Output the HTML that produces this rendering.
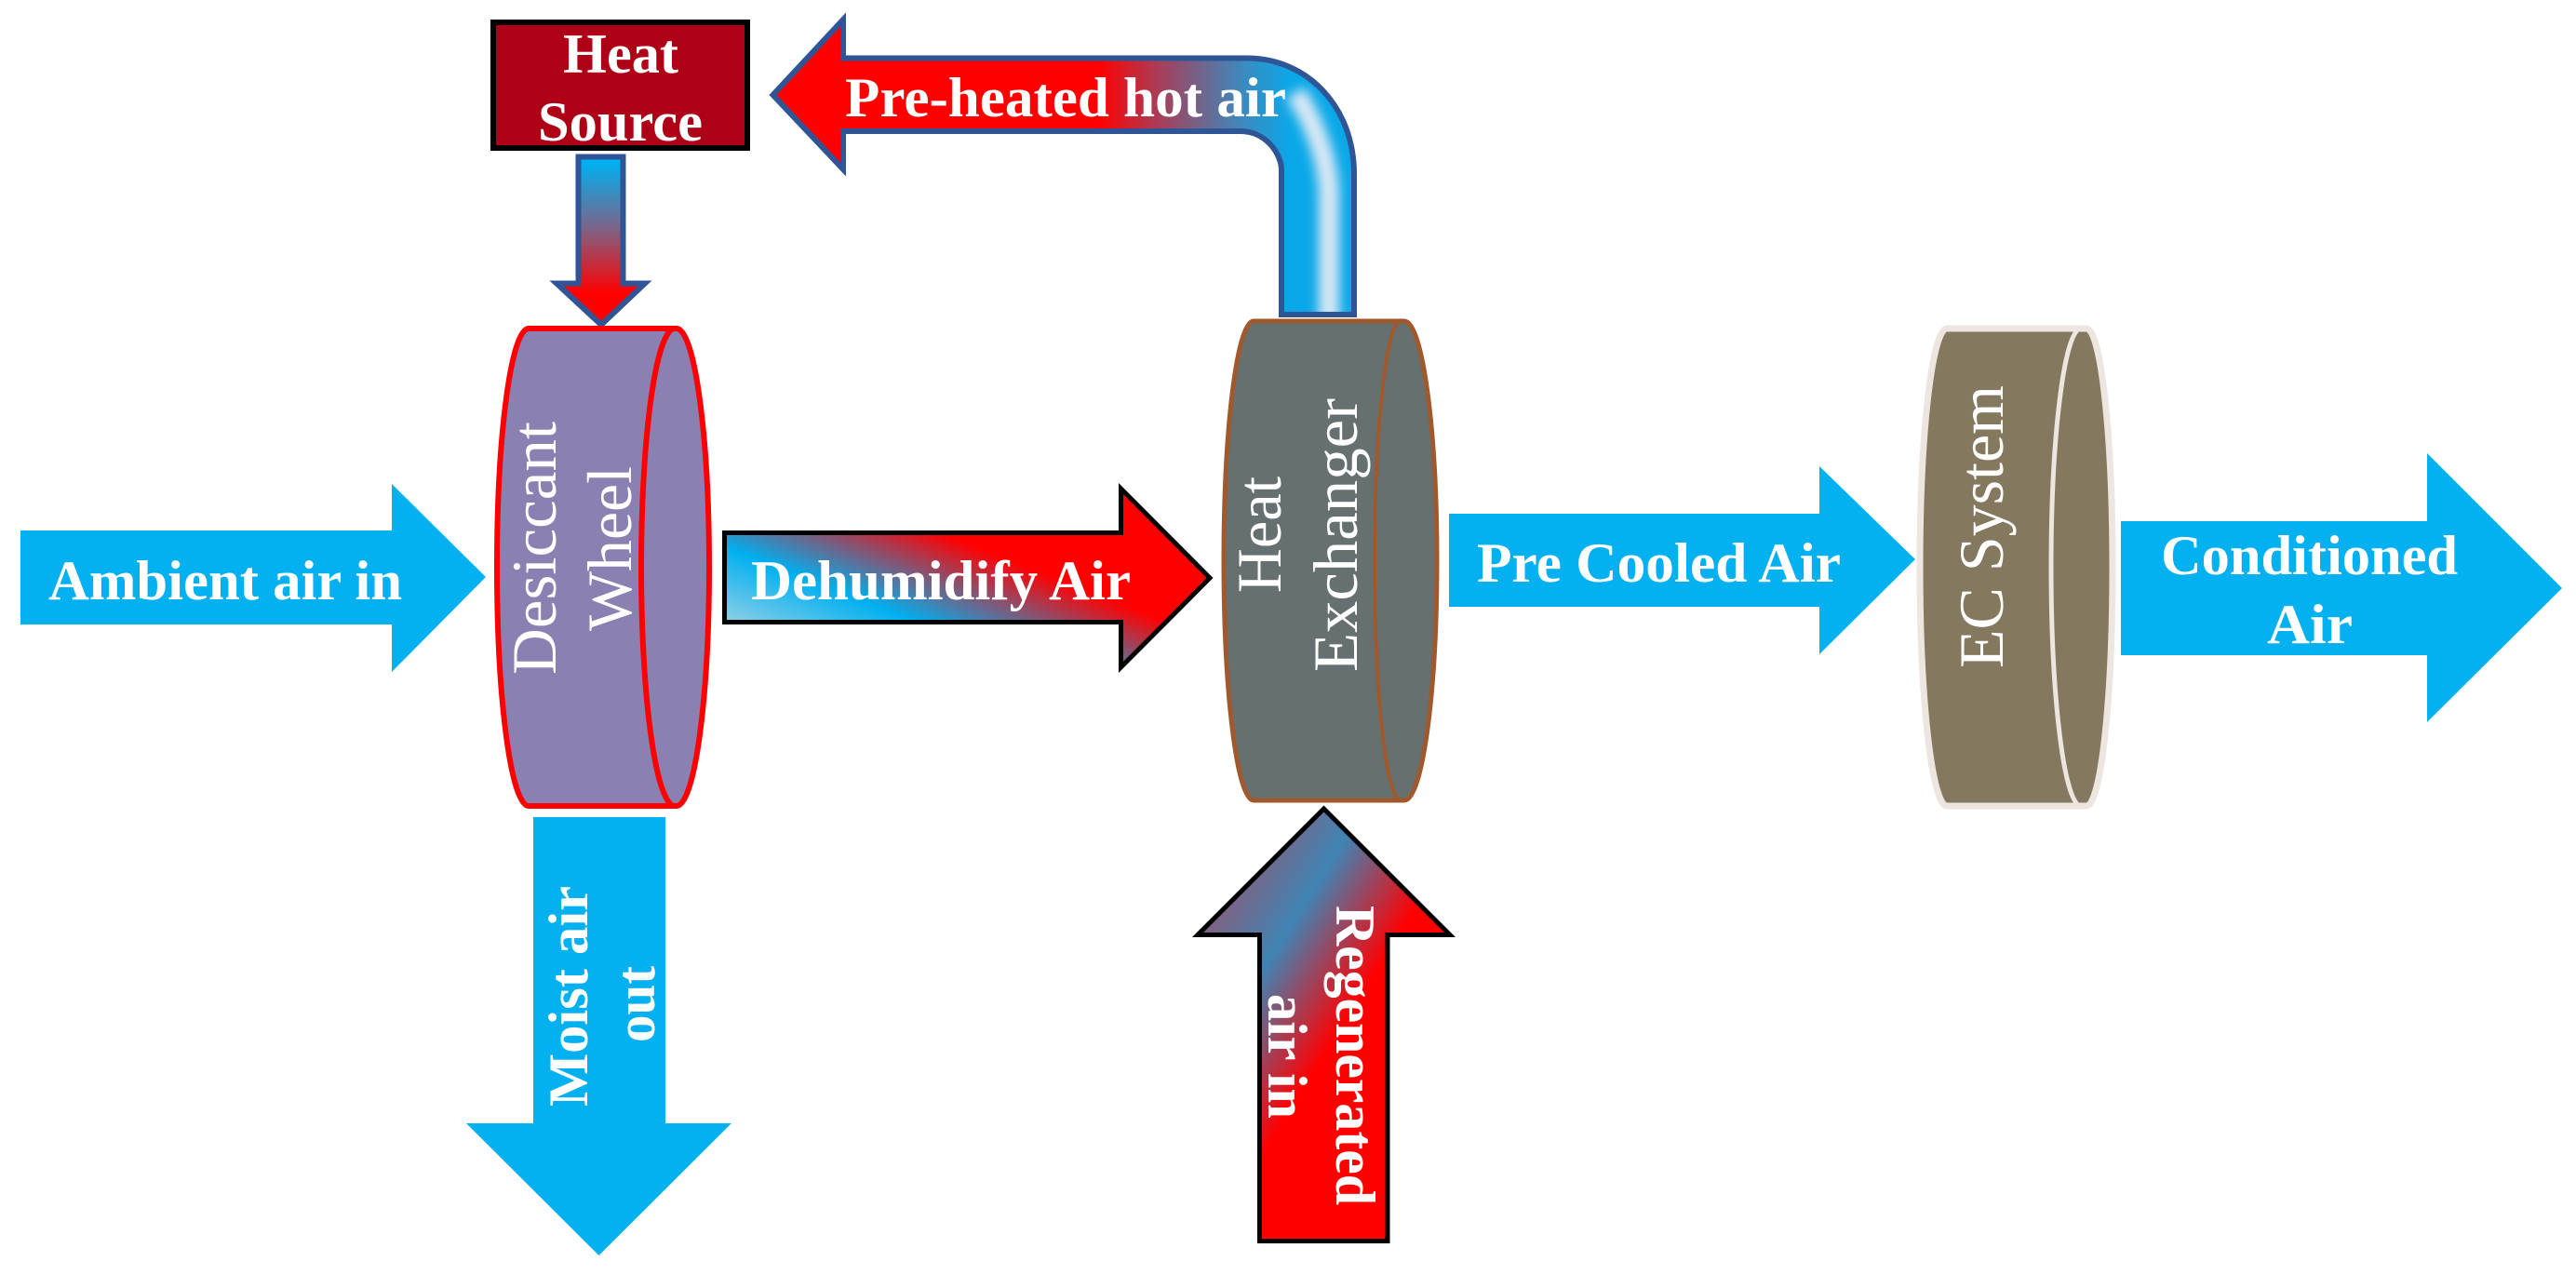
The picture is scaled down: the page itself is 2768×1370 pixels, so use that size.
<!DOCTYPE html>
<html lang="en">
<head>
<meta charset="utf-8">
<title>Desiccant cooling system diagram</title>
<style>
html,body{margin:0;padding:0;background:#fff;width:2768px;height:1370px;overflow:hidden}
svg{display:block}
text{font-family:"Liberation Serif",serif;fill:#fff}
.b{font-weight:bold;font-size:60px}
.r{font-size:68px}
</style>
</head>
<body>
<svg xmlns="http://www.w3.org/2000/svg" width="2768" height="1370" viewBox="0 0 2768 1370">
<defs>
<linearGradient id="gPre" gradientUnits="userSpaceOnUse" x1="900" y1="0" x2="1460" y2="0">
<stop offset="0" stop-color="#ff0000"/>
<stop offset="0.5" stop-color="#ff0000"/>
<stop offset="0.62" stop-color="#a5405a"/>
<stop offset="0.78" stop-color="#3a8bc0"/>
<stop offset="0.87" stop-color="#0aa8e8"/>
<stop offset="1" stop-color="#0aa8e8"/>
</linearGradient>
<linearGradient id="gDown" gradientUnits="userSpaceOnUse" x1="0" y1="175" x2="0" y2="315">
<stop offset="0" stop-color="#00b0f0"/>
<stop offset="0.5" stop-color="#7c6488"/>
<stop offset="1" stop-color="#ff0000"/>
</linearGradient>
<linearGradient id="gDeh" gradientUnits="userSpaceOnUse" x1="780" y1="668" x2="843" y2="507">
<stop offset="0" stop-color="#8fcfe6"/>
<stop offset="0.43" stop-color="#00b0f0"/>
<stop offset="1" stop-color="#ff0000"/>
</linearGradient>
<linearGradient id="gReg" gradientUnits="userSpaceOnUse" x1="1272" y1="895" x2="1488" y2="1030">
<stop offset="0" stop-color="#c04050"/>
<stop offset="0.59" stop-color="#3f84b4"/>
<stop offset="1" stop-color="#ff0000"/>
</linearGradient>
<clipPath id="pipeClip">
<path d="M830.5,102 L906,21 V62.5 H1340 C1405,62.5 1455,115 1455,187 V338 H1377 V183 C1377,165 1360,141 1333,141 H906 V182 Z"/>
</clipPath>
<filter id="blur" filterUnits="userSpaceOnUse" x="1300" y="0" width="220" height="420">
<feGaussianBlur stdDeviation="6"/>
</filter>
</defs>

<!-- Heat source -->
<rect x="530" y="24" width="273" height="135" fill="#ae0016" stroke="#000" stroke-width="6"/>
<text class="b" x="605" y="78" textLength="124" lengthAdjust="spacingAndGlyphs">Heat</text>
<text class="b" x="578" y="151" textLength="177" lengthAdjust="spacingAndGlyphs">Source</text>

<!-- Pre-heated hot air bent arrow -->
<path d="M830.5,102 L906,21 V62.5 H1340 C1405,62.5 1455,115 1455,187 V338 H1377 V183 C1377,165 1360,141 1333,141 H906 V182 Z" fill="url(#gPre)"/>
<g clip-path="url(#pipeClip)">
<path d="M1428,370 V205 C1426,170 1412,130 1392,100" fill="none" stroke="#d8e8f5" stroke-width="22" filter="url(#blur)"/>
</g>
<path d="M830.5,102 L906,21 V62.5 H1340 C1405,62.5 1455,115 1455,187 V338 H1377 V183 C1377,165 1360,141 1333,141 H906 V182 Z" fill="none" stroke="#2f5597" stroke-width="6"/>
<text class="b" x="908" y="125" textLength="474" lengthAdjust="spacingAndGlyphs">Pre-heated hot air</text>

<!-- Heat source down arrow -->
<path d="M621.5,168.5 H669.5 V304.5 H693 L646,349 L598,304.5 H621.5 Z" fill="url(#gDown)" stroke="#2f5597" stroke-width="6"/>

<!-- Desiccant wheel -->
<path d="M568,353 H727 A35,256.5 0 0 1 727,866 H568 A34,256.5 0 0 1 568,353 Z" fill="#8b80b2" stroke="#ff0000" stroke-width="6"/>
<path d="M725,353 A36,256.5 0 0 0 725,866" fill="none" stroke="#ff0000" stroke-width="6"/>
<text class="r" transform="translate(597,725) rotate(-90)" textLength="272" lengthAdjust="spacingAndGlyphs">Desiccant</text>
<text class="r" transform="translate(678,678) rotate(-90)" textLength="177" lengthAdjust="spacingAndGlyphs">Wheel</text>

<!-- Ambient air arrow -->
<polygon points="22,570 421,570 421,520 522,620 421,722 421,671 22,671" fill="#03b0f0"/>
<text class="b" x="52" y="644" textLength="380" lengthAdjust="spacingAndGlyphs">Ambient air in</text>

<!-- Dehumidify arrow -->
<path d="M778.5,572.5 H1204.5 V525 L1300,621 L1204.5,717 V668.5 H778.5 Z" fill="url(#gDeh)" stroke="#000" stroke-width="5"/>
<text class="b" x="807" y="644" textLength="408" lengthAdjust="spacingAndGlyphs">Dehumidify Air</text>

<!-- Heat exchanger -->
<path d="M1347,345 H1509 A35,257.5 0 0 1 1509,860 H1347 A32,257.5 0 0 1 1347,345 Z" fill="#667070" stroke="#a0592d" stroke-width="5"/>
<path d="M1505,345 A28,257.5 0 0 0 1505,860" fill="none" stroke="#a0592d" stroke-width="4"/>
<text class="r" transform="translate(1376,637) rotate(-90)" textLength="125" lengthAdjust="spacingAndGlyphs">Heat</text>
<text class="r" transform="translate(1458,722) rotate(-90)" textLength="294" lengthAdjust="spacingAndGlyphs">Exchanger</text>

<!-- Pre cooled arrow -->
<polygon points="1557,552 1955,552 1955,501 2058,601 1955,703 1955,652 1557,652" fill="#03b0f0"/>
<text class="b" x="1587" y="625" textLength="391" lengthAdjust="spacingAndGlyphs">Pre Cooled Air</text>

<!-- EC system -->
<path d="M2092,353 H2242 A28,256.5 0 0 1 2242,866 H2092 A29,256.5 0 0 1 2092,353 Z" fill="#84795f" stroke="#ede6e0" stroke-width="7"/>
<path d="M2236,353 A32,256.5 0 0 0 2236,866" fill="none" stroke="#ede6e0" stroke-width="5"/>
<text class="r" transform="translate(2152,718) rotate(-90)" textLength="304" lengthAdjust="spacingAndGlyphs">EC System</text>

<!-- Conditioned arrow -->
<polygon points="2279,560 2608,560 2608,487 2753,632 2608,776 2608,704 2279,704" fill="#03b0f0"/>
<text class="b" x="2322" y="617" textLength="319" lengthAdjust="spacingAndGlyphs">Conditioned</text>
<text class="b" x="2436" y="691" textLength="92" lengthAdjust="spacingAndGlyphs">Air</text>

<!-- Moist air arrow -->
<polygon points="573,878 715,878 715,1207 786,1207 643.5,1349 501,1207 573,1207" fill="#03b0f0"/>
<text class="b" transform="translate(631,1189) rotate(-90)" textLength="237" lengthAdjust="spacingAndGlyphs">Moist air</text>
<text class="b" transform="translate(703,1120) rotate(-90)" textLength="82" lengthAdjust="spacingAndGlyphs">out</text>

<!-- Regenerated air arrow -->
<path d="M1422.5,869 L1558,1004.5 H1491 V1333.5 H1353.5 V1004.5 H1287 Z" fill="url(#gReg)" stroke="#000" stroke-width="5"/>
<text class="b" transform="translate(1436,973) rotate(90)" textLength="322" lengthAdjust="spacingAndGlyphs">Regenerated</text>
<text class="b" transform="translate(1363,1068) rotate(90)" textLength="134" lengthAdjust="spacingAndGlyphs">air in</text>
</svg>
</body>
</html>
